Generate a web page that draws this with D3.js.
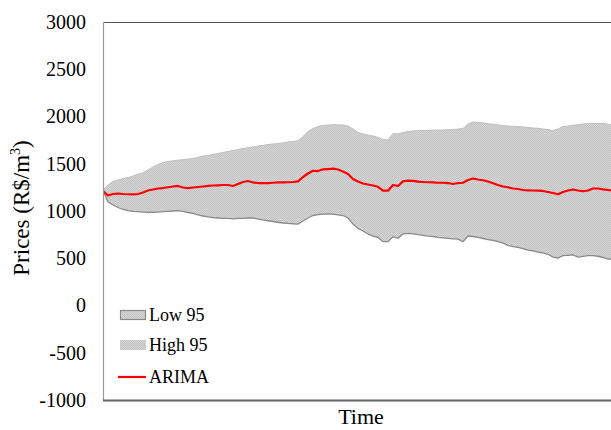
<!DOCTYPE html>
<html>
<head>
<meta charset="utf-8">
<script src="https://cdn.jsdelivr.net/npm/d3@7/dist/d3.min.js"></script>
<style>
  html, body { margin: 0; padding: 0; background: #fff; }
  svg { display: block; }
  svg text { font-family: "Liberation Serif", "Times New Roman", serif; fill: #000; }
</style>
</head>
<body>
<svg id="chart" width="611" height="430"></svg>
<script>
// Forecast horizon (time index, no labels on the axis)
const timeIdx = d3.range(0, 103);

const arima = [1211,1164,1180,1185,1180,1177,1175,1180,1196,1217,1228,1238,1243,1251,1259,1265,1249,1243,1249,1254,
1259,1265,1270,1272,1275,1275,1265,1286,1307,1317,1302,1296,1296,1296,1299,1302,1302,1304,1307,1314,
1360,1397,1426,1423,1441,1444,1448,1439,1418,1392,1339,1312,1291,1280,1270,1256,1215,1215,1275,1265,
1314,1321,1318,1310,1307,1304,1302,1299,1299,1296,1286,1296,1299,1328,1344,1333,1325,1312,1293,1275,
1259,1251,1238,1233,1222,1219,1217,1215,1212,1201,1190,1177,1201,1217,1228,1217,1209,1217,1238,1238,
1228,1222,1217];

const high95 = [1222,1275,1312,1328,1344,1355,1370,1388,1405,1434,1466,1492,1513,1524,1531,1538,1543,1550,1556,1568,
1582,1587,1598,1608,1621,1630,1640,1651,1661,1670,1677,1688,1695,1704,1709,1714,1720,1730,1735,1744,
1788,1841,1873,1894,1905,1910,1913,1912,1910,1899,1868,1831,1815,1804,1794,1778,1757,1751,1820,1815,
1831,1841,1847,1850,1852,1854,1855,1857,1857,1860,1862,1868,1873,1921,1942,1937,1931,1924,1918,1910,
1905,1899,1896,1894,1889,1884,1878,1875,1868,1862,1852,1868,1894,1899,1907,1913,1921,1926,1928,1928,
1926,1918,1910];

const low95 = [1211,1098,1063,1037,1016,1005,997,993,989,986,987,989,993,997,1000,1003,997,984,974,958,
947,937,931,926,921,921,917,921,923,926,926,915,905,897,889,881,873,868,865,862,
894,926,952,963,968,970,968,960,952,926,862,815,788,757,735,720,675,675,728,711,
757,764,757,749,743,735,730,722,716,711,706,702,675,735,730,720,709,698,688,675,
661,637,624,614,601,587,577,566,556,542,513,503,527,531,535,513,519,527,527,521,
508,492,492];

const yTicks = [-1000,-500,0,500,1000,1500,2000,2500,3000];
const seriesNames = ["Low 95","High 95","ARIMA"];

const svg = d3.select("#chart");
const m = {left: 103, top: 22, right: 623, bottom: 400};

const x = d3.scaleLinear().domain([0, 104]).range([m.left, m.right]);
const y = d3.scaleLinear().domain([-1000, 3000]).range([m.bottom, m.top]);

const defs = svg.append("defs");
const pat = defs.append("pattern").attr("id","chk").attr("patternUnits","userSpaceOnUse")
  .attr("width",2).attr("height",2);
pat.append("rect").attr("width",2).attr("height",2).attr("fill","#d4d4d4");
pat.append("rect").attr("width",1).attr("height",1).attr("fill","#c4c4c4");
pat.append("rect").attr("x",1).attr("y",1).attr("width",1).attr("height",1).attr("fill","#c4c4c4");

defs.append("clipPath").attr("id","clip").append("rect")
  .attr("x", m.left).attr("y", m.top).attr("width", m.right - m.left).attr("height", m.bottom - m.top);

const data = timeIdx.map((t,i) => ({t, a: arima[i], h: high95[i], l: low95[i]}));

const g = svg.append("g").attr("clip-path","url(#clip)");

g.append("path").datum(data)
  .attr("fill","url(#chk)")
  .attr("d", d3.area().x(d => x(d.t)).y0(d => y(d.l)).y1(d => y(d.h)));

g.append("path").datum(data)
  .attr("fill","none").attr("stroke","#c0c0c0").attr("stroke-width",1)
  .attr("d", d3.line().x(d => x(d.t)).y(d => y(d.h)));

g.append("path").datum(data)
  .attr("fill","none").attr("stroke","#8a8a8a").attr("stroke-width",1.3)
  .attr("d", d3.line().x(d => x(d.t)).y(d => y(d.l)));

g.append("path").datum(data)
  .attr("fill","none").attr("stroke","#ff0000").attr("stroke-width",2.2)
  .attr("stroke-linejoin","round")
  .attr("d", d3.line().x(d => x(d.t)).y(d => y(d.a)));

svg.append("line").attr("x1", m.left).attr("x2", 611).attr("y1", m.top + 0.5).attr("y2", m.top + 0.5)
  .attr("stroke","#555").attr("stroke-width",1);
svg.append("line").attr("x1", m.left + 0.5).attr("x2", m.left + 0.5).attr("y1", m.top).attr("y2", m.bottom)
  .attr("stroke","#999").attr("stroke-width",1.2);
svg.append("line").attr("x1", m.left).attr("x2", 611).attr("y1", m.bottom + 0.5).attr("y2", m.bottom + 0.5)
  .attr("stroke","#666").attr("stroke-width",2);

const yAxis = d3.axisLeft(y).tickValues(yTicks).tickSize(0).tickPadding(17).tickFormat(d => String(d));
const ya = svg.append("g").attr("transform", `translate(${m.left},0)`).call(yAxis);
ya.attr("font-family", null).attr("font-size", null);
ya.select(".domain").remove();
ya.selectAll("text").style("font-size","20px").attr("fill","#000");

svg.append("text").attr("transform","translate(29,208) rotate(-90)")
  .attr("text-anchor","middle").style("font-size","23px")
  .html('Prices (R$/m<tspan dy="-9" font-size="14px">3</tspan><tspan dy="9">)</tspan>');
svg.append("text").attr("x", 361).attr("y", 424).attr("text-anchor","middle")
  .style("font-size","22px").text("Time");

const lg = svg.append("g");
const ly = [315, 345, 377];
lg.append("rect").attr("x",120.5).attr("y",ly[0]-4.5).attr("width",25).attr("height",9)
  .attr("fill","url(#chk)").attr("stroke","#8a8a8a").attr("stroke-width",1.2);
lg.append("rect").attr("x",120).attr("y",ly[1]-5).attr("width",26).attr("height",10)
  .attr("fill","url(#chk)");
lg.append("line").attr("x1",118).attr("x2",146).attr("y1",ly[2]).attr("y2",ly[2])
  .attr("stroke","#ff0000").attr("stroke-width",2.2);
seriesNames.forEach((n,i) => {
  lg.append("text").attr("x",149).attr("y",ly[i]+6).style("font-size","18px").text(n);
});
</script>
</body>
</html>
